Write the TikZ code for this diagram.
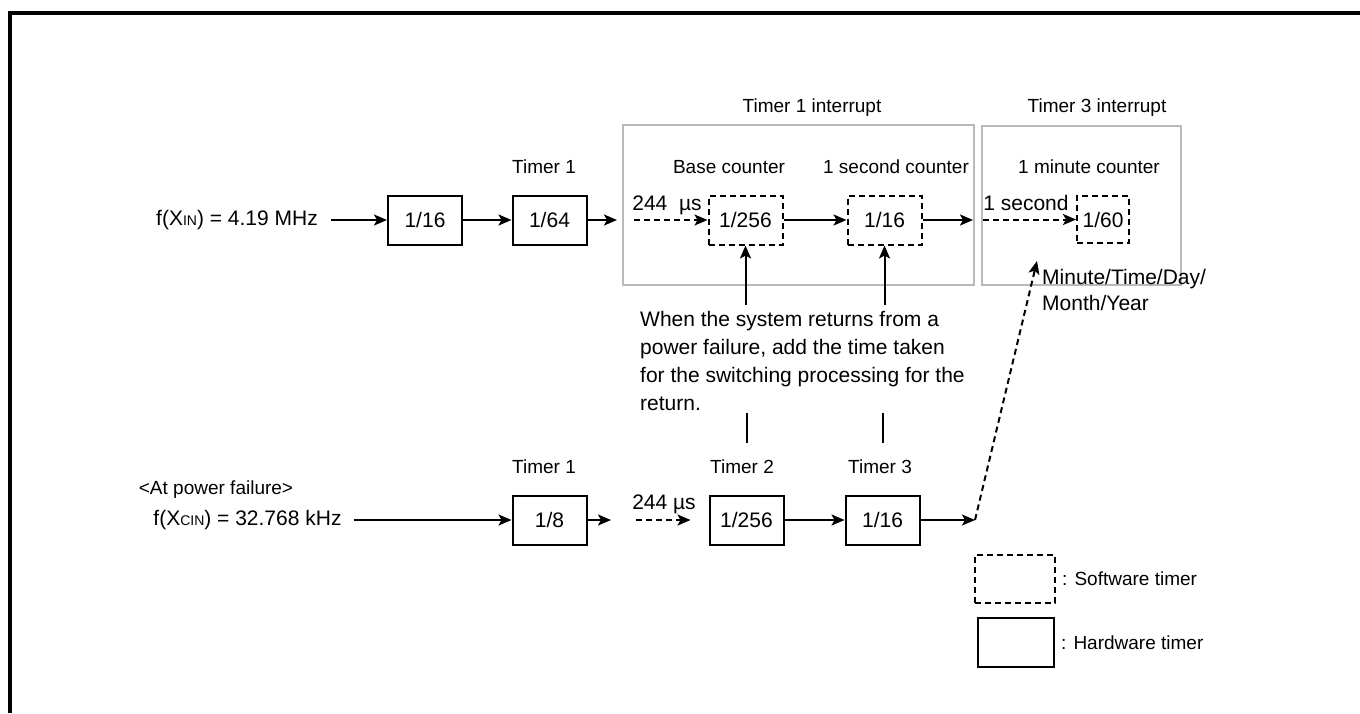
\documentclass[tikz,border=0pt]{standalone}
\usepackage{fontspec}
\setmainfont{Liberation Sans}
\usetikzlibrary{arrows.meta, positioning, calc}
\newcommand{\numfont}{\fontsize{21}{28}\selectfont}
\newcommand{\lblfont}{\fontsize{19}{23}\selectfont}
\newcommand{\subfont}{\fontsize{14}{14}\selectfont}
\definecolor{grpgray}{RGB}{185,185,185}

\begin{document}
\begin{tikzpicture}[x=1pt, y=-1pt,
  hwbox/.style={rectangle, draw, line width=2pt, minimum width=74pt, minimum height=49pt, font=\numfont, inner sep=0pt},
  swbox/.style={hwbox, dash pattern=on 6pt off 4pt},
  grpbox/.style={rectangle, draw=grpgray, line width=2pt, inner sep=0pt},
  lbl/.style={font=\lblfont, inner sep=2pt},
  txt/.style={font=\numfont, inner sep=2pt},
  line/.style={draw, line width=2pt, -{Stealth[length=13pt, width=11pt, inset=3pt]}},
  dline/.style={line, dash pattern=on 6pt off 4pt}]
  \useasboundingbox (0,0) rectangle (1360,713);
  \draw[line width=4.5pt] (10,713) -- (10,13) -- (1360,13);

  % normal operation
  \node [txt] (fxin) at (237,220) {f(X{\subfont IN}) = 4.19 MHz};
  \node [hwbox] (d16) at (425,220) {1/16};
  \node [hwbox] (d64) at (549.5,220) {1/64};
  \node [lbl] (t1top) at (544,167) {Timer 1};
  \node [grpbox, minimum width=351pt, minimum height=160pt] (int1) at (798.5,205) {};
  \node [grpbox, minimum width=199pt, minimum height=159pt] (int3) at (1081.5,205.5) {};
  \node [lbl] (int1l) at (812,108) {Timer 1 interrupt};
  \node [lbl] (int3l) at (1097,108) {Timer 3 interrupt};
  \node [lbl] (basel) at (729,167) {Base counter};
  \node [lbl] (secl) at (896,167) {1 second counter};
  \node [lbl] (minl) at (1089,167) {1 minute counter};
  \node [swbox] (c256) at (745.5,220) {1/256};
  \node [swbox] (c16) at (884.5,220) {1/16};
  \node [swbox, minimum width=52pt, minimum height=47pt] (c60) at (1103,219.5) {1/60};
  \node [txt] (us1) at (667,205) {244\ \ µs};
  \node [txt] (onesec) at (1026,203) {1 second};
  \draw [line] ($(fxin.east)+(11,0)$) -- (d16);
  \draw [line] (d16) -- (d64);
  \draw [line, shorten >=5pt] (d64) -- (d64 -| int1.west);
  \draw [dline] ($(c256 -| int1.west)+(12,0)$) -- (c256);
  \draw [line] (c256) -- (c16);
  \draw [line, shorten >=2pt] (c16) -- (c16 -| int1.east);
  \draw [dline] ($(c60 -| int3.west)+(2,0)$) -- (c60);

  % return note
  \node [font=\numfont, align=left, anchor=west, inner sep=0pt] (note) at (640,361)
    {When the system returns from a\\power failure, add the time taken\\for the switching processing for the\\return.};
  \draw [line, shorten <=6pt] (c256 |- note.north) -- (c256);
  \draw [line, shorten <=6pt] (c16 |- note.north) -- (c16);

  % power failure
  \node [lbl] (pfail) at (216,490) {<At power failure>};
  \node [txt] (fxcin) at (247.5,520) {f(X{\subfont CIN}) = 32.768 kHz};
  \node [hwbox] (d8) at (549.5,520) {1/8};
  \node [hwbox] (t256) at (746.5,520) {1/256};
  \node [hwbox] (t16) at (882.5,520) {1/16};
  \node [lbl] (t1bot) at (544,467) {Timer 1};
  \node [lbl] (t2bot) at (742,467) {Timer 2};
  \node [lbl] (t3bot) at (880,467) {Timer 3};
  \node [txt] (us2) at (664,504) {244 µs};
  \coordinate (gap1) at (611,520);
  \coordinate (gap2) at (636,520);
  \coordinate (gap3) at (975,520);
  \coordinate (mtdtip) at (1037,261);
  \draw [line] ($(fxcin.east)+(10,0)$) -- (d8);
  \draw [line] (d8) -- (gap1);
  \draw [dline, shorten >=18pt] (gap2) -- (t256);
  \draw [line] (t256) -- (t16);
  \draw [line] (t16) -- (gap3);
  \draw [dline] (gap3) -- (mtdtip);
  \draw [line width=2pt, shorten <=2pt, shorten >=15pt] (t256 |- note.south) -- (t256 |- t2bot.north);
  \draw [line width=2pt, shorten <=2pt, shorten >=15pt] (t16 |- note.south) -- (t16 |- t3bot.north);
  \node [font=\fontsize{21}{26}\selectfont, align=left, anchor=west, inner sep=0pt] (mtd) at (1042,290) {Minute/Time/Day/\\Month/Year};

  % legend
  \node [swbox, minimum width=80pt, minimum height=48pt] (legsw) at (1015,579) {};
  \node [hwbox, minimum width=76pt, minimum height=49pt] (leghw) at (1016,642.5) {};
  \node [lbl, right=4pt of legsw] (legswl) {: Software timer};
  \node [lbl, right=4pt of leghw] (leghwl) {: Hardware timer};
\end{tikzpicture}
\end{document}
